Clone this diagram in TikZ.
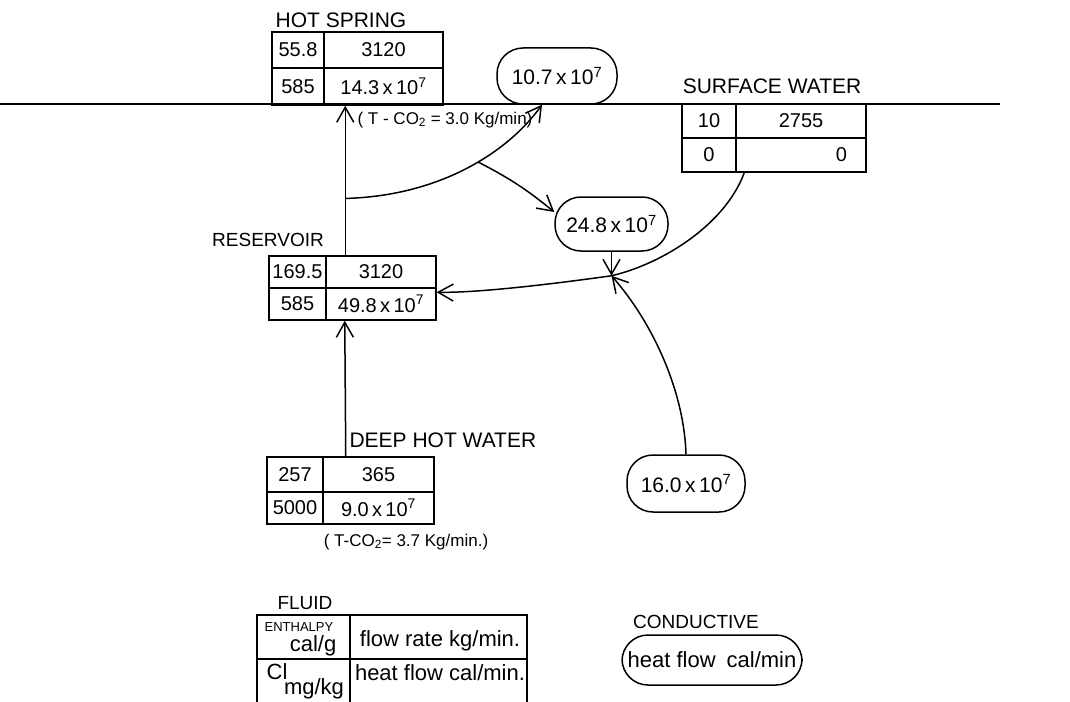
\documentclass[tikz,border=0pt]{standalone}
\usepackage{fontspec}
\setmainfont{Liberation Sans}
\usetikzlibrary{arrows.meta,positioning}

\begin{document}
\begin{tikzpicture}[x=1pt,y=-1pt]
  \tikzset{cell/.style={rectangle, draw, line width=1.5pt, inner sep=0pt,
      text centered, font=\fontsize{20}{23}\selectfont},
    bubble/.style={rectangle, rounded corners=26pt, draw, line width=1.5pt,
      inner sep=0pt, font=\fontsize{21}{24}\selectfont},
    site/.style={font=\fontsize{21}{24}\selectfont},
    note/.style={font=\fontsize{17}{20}\selectfont},
    legend/.style={inner sep=1pt, font=\fontsize{22}{25}\selectfont},
    pipe/.style={line width=1.5pt},
    flow/.style={line width=1.5pt, -{Straight Barb[length=15pt,width=17pt]}}}
  \useasboundingbox (0,0) rectangle (1070,701);
  % Ground surface
  \draw[pipe] (0,104) -- (1000,104);
  % Hot spring
  \node[site] (hotspring) at (341,20) {HOT SPRING};
  \node[cell, minimum width=52pt,  minimum height=36pt] (hs11) at (298,50)     {55.8};
  \node[cell, minimum width=119pt, minimum height=36pt] (hs12) at (383.5,50)   {3120};
  \node[cell, minimum width=52pt,  minimum height=37pt] (hs21) at (298,86.5)   {585};
  \node[cell, minimum width=119pt, minimum height=37pt] (hs22) at (383.5,86.5) {14.3\,x\,10\textsuperscript{7}};
  \node[note] (co2top) at (445,120) {( T - CO\textsubscript{2} = 3.0 Kg/min)};
  % Surface water
  \node[site] (surface) at (772,86) {SURFACE WATER};
  \node[cell, minimum width=54pt,  minimum height=34pt] (sw11) at (709,121) {10};
  \node[cell, minimum width=130pt, minimum height=34pt] (sw12) at (801,121) {2755};
  \node[cell, minimum width=54pt,  minimum height=34pt] (sw21) at (709,155) {0};
  \node[cell, minimum width=130pt, minimum height=34pt, text width=92pt, align=right] (sw22) at (801,155) {0};
  % Reservoir
  \node[site, font=\fontsize{19}{22}\selectfont] (reservoir) at (268,240) {RESERVOIR};
  \node[cell, minimum width=57pt,  minimum height=32pt] (rv11) at (297.5,272) {169.5};
  \node[cell, minimum width=110pt, minimum height=32pt] (rv12) at (381,272)   {3120};
  \node[cell, minimum width=57pt,  minimum height=32pt] (rv21) at (297.5,304) {585};
  \node[cell, minimum width=110pt, minimum height=32pt] (rv22) at (381,304)   {49.8\,x\,10\textsuperscript{7}};
  % Deep hot water
  \node[site, anchor=west] (deep) at (346,440) {DEEP HOT WATER};
  \node[cell, minimum width=56pt,  minimum height=35pt] (dp11) at (295,474.5)   {257};
  \node[cell, minimum width=111pt, minimum height=35pt] (dp12) at (378.5,474.5) {365};
  \node[cell, minimum width=56pt,  minimum height=32pt] (dp21) at (295,508)     {5000};
  \node[cell, minimum width=111pt, minimum height=32pt] (dp22) at (378.5,508)   {9.0\,x\,10\textsuperscript{7}};
  \node[note] (co2deep) at (406,542) {( T-CO\textsubscript{2}= 3.7 Kg/min.)};
  % Conductive heat flows
  \node[bubble, minimum width=120pt, minimum height=56pt] (b107) at (557,76)    {10.7\,x\,10\textsuperscript{7}};
  \node[bubble, minimum width=113pt, minimum height=54pt] (b248) at (611.5,224) {24.8\,x\,10\textsuperscript{7}};
  \node[bubble, minimum width=118pt, minimum height=57pt] (b160) at (686,483.5) {16.0\,x\,10\textsuperscript{7}};
  \coordinate (meet) at ([yshift=-24pt]b248.south);
  % Flows
  \draw[flow] ([xshift=20pt]rv12.north west) -- ([xshift=22pt]hs22.south west);
  \path ([xshift=20pt]rv12.north west) -- ([xshift=22pt]hs22.south west) coordinate[pos=0.38] (fork);
  \draw[flow] (fork) .. controls (440,196) and (508,152) .. coordinate[pos=0.56] (branch) ([xshift=-15pt]b107.south);
  \draw[flow] (branch) to[bend left=6] ([yshift=12pt]b248.west);
  \draw[flow] ([xshift=22pt]dp11.north east) -- ([xshift=18pt]rv21.south east);
  \draw[pipe] ([xshift=9pt]sw22.south west) .. controls (725,225) and (662,264) .. (meet);
  \draw[flow] (meet) .. controls (560,283) and (480,293) .. ([yshift=-5pt]rv22.north east);
  \draw[flow] (b248.south) -- (meet);
  \draw[flow] (b160.north) .. controls (684,390) and (652,322) .. (meet);
  % Legend
  \node[site, font=\fontsize{19}{22}\selectfont] (fluid) at (305,603) {FLUID};
  \node[cell, minimum width=93pt,  minimum height=44pt] (lg11) at (303.5,637) {};
  \node[cell, minimum width=177pt, minimum height=44pt] (lg12) at (438.5,637) {};
  \node[cell, minimum width=93pt,  minimum height=44pt] (lg21) at (303.5,681) {};
  \node[cell, minimum width=177pt, minimum height=44pt] (lg22) at (438.5,681) {};
  \node[inner sep=0pt, font=\fontsize{13}{15}\selectfont] (enthalpy) at (299,627) {ENTHALPY};
  \node[legend, inner sep=0pt] (calg) at (313,646) {cal/g};
  \node[legend] (flowrate) at (440,641) {flow rate kg/min.};
  \node[legend, inner sep=0pt] (chlor) at (277,672) {Cl};
  \node[legend, inner sep=0pt] (mgkg) at (314,689) {mg/kg};
  \node[legend] (heatflow) at (440,673) {heat flow cal/min.};
  \node[site, font=\fontsize{19}{22}\selectfont] (conductive) at (696,622) {CONDUCTIVE};
  \node[bubble, legend, minimum width=180pt, minimum height=50pt] (cond) at (712,660) {heat flow\enspace cal/min};
\end{tikzpicture}
\end{document}
